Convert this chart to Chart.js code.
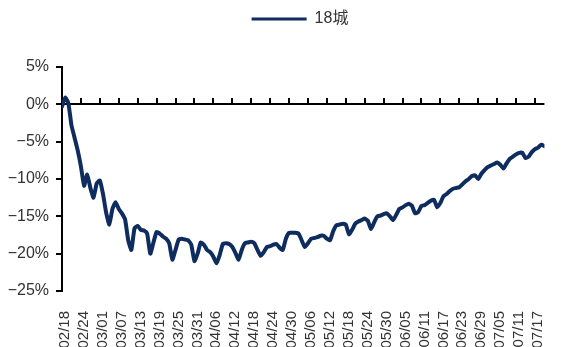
<!DOCTYPE html>
<html>
<head>
<meta charset="utf-8">
<script src="https://cdn.jsdelivr.net/npm/chart.js@4/dist/chart.umd.min.js"></script>
<style>
  html, body { margin: 0; padding: 0; background: #fff; }
  #wrap { width: 565px; height: 347px; }
</style>
</head>
<body>
<div id="wrap"><canvas id="c"></canvas></div>
<script>
// Series: daily readings from 02/18 to 07/20, in percent
const seriesName = '18城';

// Date labels shown every sixth day along the x axis
const tickLabels = [
  '02/18', '02/24', '03/01', '03/07', '03/13', '03/19', '03/25', '03/31',
  '04/06', '04/12', '04/18', '04/24', '04/30', '05/06', '05/12', '05/18',
  '05/24', '05/30', '06/05', '06/11', '06/17', '06/23', '06/29', '07/05',
  '07/11', '07/17'
];
const tickEvery = 6;

// One value per day, starting 02/18
const values18 = [
  -0.3, 0.9, 0.2, -2.8, -4.5, -6.2, -8.3, -10.9, -9.4, -11.2,
  -12.5, -10.6, -10.2, -12.0, -14.5, -16.1, -14.0, -13.1, -14.0, -14.6,
  -15.4, -18.2, -19.5, -16.6, -16.3, -16.8, -16.9, -17.3, -20.0, -18.5,
  -17.1, -17.3, -17.7, -18.0, -18.6, -20.8, -19.5, -18.1, -18.0, -18.1,
  -18.2, -18.8, -21.0, -20.0, -18.5, -18.8, -19.5, -19.8, -20.4, -21.3,
  -20.2, -18.7, -18.6, -18.7, -19.1, -19.9, -20.8, -19.5, -18.6, -18.5,
  -18.4, -18.6, -19.5, -20.3, -19.8, -19.1, -19.0, -18.8, -18.7, -19.2,
  -19.5, -18.0, -17.2, -17.2, -17.2, -17.3, -18.2, -19.1, -18.6, -18.0,
  -17.9, -17.8, -17.6, -17.6, -18.0, -18.2, -17.0, -16.2, -16.1, -16.0,
  -16.1, -17.4, -16.8, -16.0, -15.7, -15.5, -15.3, -15.6, -16.7, -15.8,
  -15.0, -14.9, -14.7, -14.6, -15.0, -15.5, -14.8, -14.0, -13.8, -13.5,
  -13.3, -13.6, -14.6, -14.4, -13.6, -13.5, -13.2, -12.9, -12.8, -13.8,
  -13.2, -12.3, -12.0, -11.6, -11.3, -11.2, -11.1, -10.7, -10.3, -10.0,
  -9.6, -9.5, -10.0, -9.3, -8.8, -8.4, -8.2, -8.0, -7.8, -8.1,
  -8.6, -7.9, -7.3, -7.0, -6.7, -6.5, -6.5, -7.2, -7.0, -6.4,
  -6.0, -5.8, -5.4, -5.6
];

const lineColor = '#0e2c5e';
const textColor = '#333333';
const fontFamily = '"Liberation Sans", Arial, "Noto Sans CJK SC", sans-serif';

// Horizontal axis line at 0% with short upward tick marks
const zeroAxis = {
  id: 'zeroAxis',
  beforeDatasetsDraw(chart) {
    const { ctx, chartArea, scales: { x, y } } = chart;
    const y0 = Math.round(y.getPixelForValue(0));
    ctx.save();
    ctx.strokeStyle = '#000';
    ctx.lineWidth = 2;
    ctx.beginPath();
    ctx.moveTo(chartArea.left, y0);
    ctx.lineTo(chartArea.right, y0);
    x.ticks.forEach(t => {
      const px = Math.round(x.getPixelForValue(t.value));
      ctx.moveTo(px, y0);
      ctx.lineTo(px, y0 - 6);
    });
    ctx.stroke();
    ctx.restore();
  }
};

// Fixed legend band height and horizontal position of the legend row
const legendBand = 64;
const legendCenterX = 300;
const legendPlacement = {
  id: 'legendPlacement',
  beforeLayout(chart) {
    const lg = chart.legend;
    if (lg && !lg._bandFixed) {
      const fit = lg.fit;
      lg.fit = function () { fit.call(this); this.height = legendBand; };
      lg._bandFixed = true;
    }
  },
  afterLayout(chart) {
    const lg = chart.legend;
    if (!lg) return;
    const d = legendCenterX - (lg.left + lg.right) / 2;
    lg.left += d;
    lg.right += d;
  }
};

new Chart(document.getElementById('c'), {
  type: 'line',
  data: {
    datasets: [{
      label: seriesName,
      data: values18.map((v, i) => ({ x: i, y: v })),
      borderColor: lineColor,
      backgroundColor: lineColor,
      borderWidth: 4,
      pointRadius: 0,
      tension: 0.15,
      borderJoinStyle: 'round',
      borderCapStyle: 'round'
    }]
  },
  options: {
    responsive: true,
    maintainAspectRatio: false,
    animation: false,
    layout: { padding: { top: 3, right: 2, left: 0, bottom: 0 } },
    plugins: {
      tooltip: { enabled: false },
      legend: {
        position: 'top',
        labels: {
          boxWidth: 55,
          boxHeight: 3,
          padding: 8,
          color: textColor,
          font: { family: fontFamily, size: 16 },
          generateLabels(chart) {
            return Chart.defaults.plugins.legend.labels.generateLabels(chart)
              .map(l => Object.assign(l, { lineWidth: 0, fillStyle: lineColor }));
          }
        }
      }
    },
    scales: {
      x: {
        type: 'linear',
        min: 0,
        max: values18.length - 1,
        afterFit(scale) { scale.height = 56; },
        afterBuildTicks(scale) {
          scale.ticks = tickLabels.map((_, i) => ({ value: i * tickEvery }));
        },
        grid: { display: false },
        border: { display: false },
        ticks: {
          autoSkip: false,
          minRotation: 90,
          maxRotation: 90,
          padding: 12,
          labelOffset: 3,
          color: textColor,
          font: { family: fontFamily, size: 15 },
          callback: v => tickLabels[Math.round(v / tickEvery)]
        }
      },
      y: {
        min: -25,
        max: 5,
        afterFit(scale) { scale.width = 62; },
        grid: {
          display: true,
          drawOnChartArea: false,
          drawTicks: true,
          tickLength: 6,
          color: '#000',
          lineWidth: 2
        },
        border: { display: true, color: '#000', width: 2 },
        ticks: {
          stepSize: 5,
          padding: 7,
          color: textColor,
          font: { family: fontFamily, size: 16 },
          callback: v => (v < 0 ? '\u2212' + Math.abs(v) : String(v)) + '%'
        }
      }
    }
  },
  plugins: [zeroAxis, legendPlacement]
});
</script>
</body>
</html>
